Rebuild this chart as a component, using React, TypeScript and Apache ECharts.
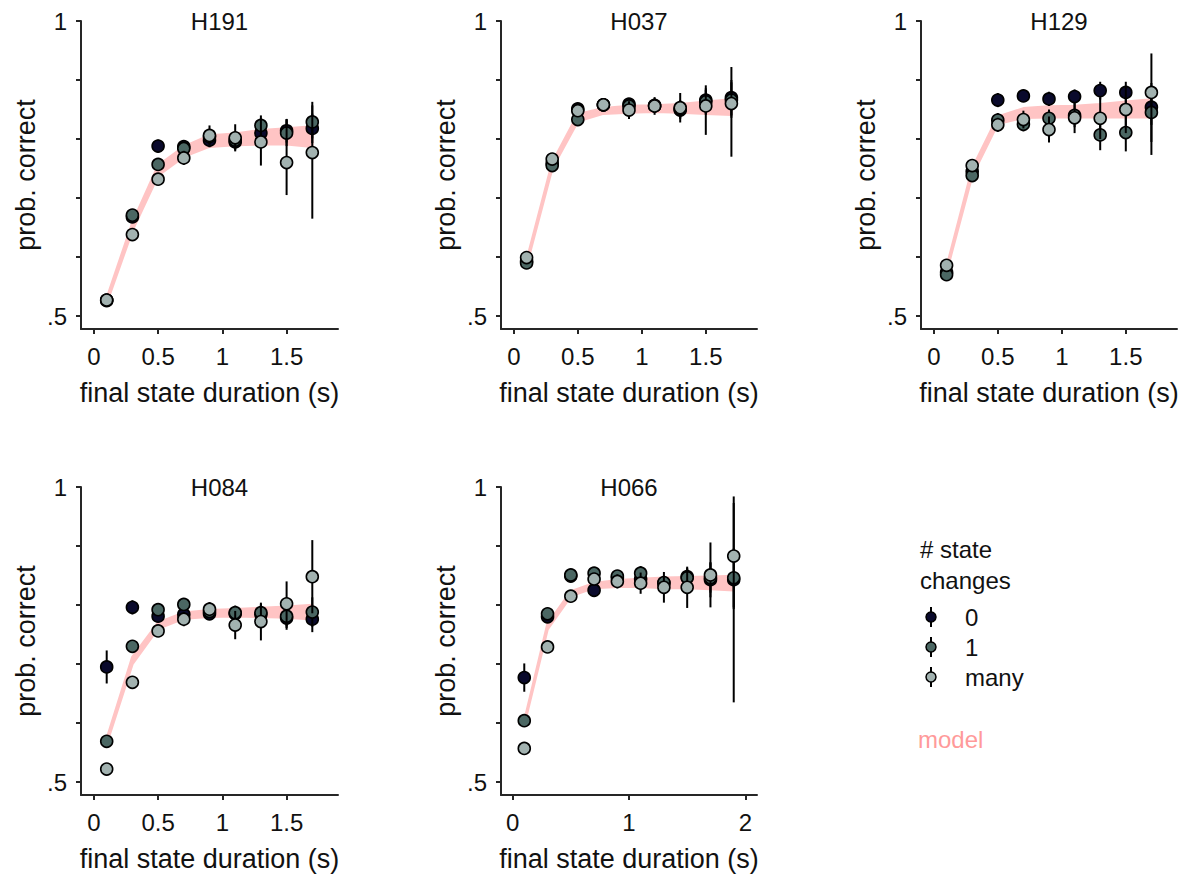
import React, { useEffect, useRef } from 'react';
import * as echarts from 'echarts';

// ---------- styling ----------
const FONT = '"Liberation Sans", Arial, Helvetica, sans-serif';
const INK = '#111111';
const AXIS = '#262626';
const BAND = '#ffc4c4';
const MODEL_TEXT = '#ff9a9a';
const GROUP_COLORS = ['#0a0a2c', '#4b6763', '#a2b2b0'];
const groupNames = ['0', '1', 'many'];

// ---------- axes ----------
const durShort = [0.1, 0.3, 0.5, 0.7, 0.9, 1.1, 1.3, 1.5, 1.7];
const durLong = [0.1, 0.3, 0.5, 0.7, 0.9, 1.1, 1.3, 1.5, 1.7, 1.9];
const xTicksShort = [0, 0.5, 1, 1.5];
const xTicksLong = [0, 1, 2];
const yTicks = [0.5, 0.6, 0.7, 0.8, 0.9, 1];
const yTickLabels = [0.5, 1];

// error bars: a single number is a symmetric half-width, a pair is [down, up]
type Err = number | [number, number];

// ---------- H191 ----------
const h191Zero = [0.526, 0.668, 0.788, 0.787, 0.798, 0.795, 0.810, 0.814, 0.818];
const h191One = [0.527, 0.671, 0.757, 0.784, 0.804, 0.798, 0.823, 0.810, 0.829];
const h191Many = [0.527, 0.638, 0.732, 0.768, 0.806, 0.802, 0.795, 0.760, 0.777];
const h191ZeroErr: Err[] = [0.008, 0.010, 0.011, 0.010, 0.012, 0.014, 0.017, 0.020, 0.025];
const h191OneErr: Err[] = [0.008, 0.010, 0.010, 0.010, 0.012, 0.014, 0.017, 0.022, 0.028];
const h191ManyErr: Err[] = [0.008, 0.010, 0.010, 0.012, 0.017, 0.023, 0.040, [0.055, 0.074], [0.112, 0.086]];
const h191ModelLo = [0.522, 0.645, 0.738, 0.770, 0.787, 0.790, 0.791, 0.791, 0.787];
const h191ModelHi = [0.530, 0.658, 0.755, 0.787, 0.806, 0.809, 0.815, 0.818, 0.821];

// ---------- H037 ----------
const h037Zero = [0.593, 0.759, 0.851, 0.858, 0.859, 0.857, 0.849, 0.866, 0.870];
const h037One = [0.590, 0.755, 0.833, 0.858, 0.856, 0.856, 0.851, 0.863, 0.866];
const h037Many = [0.599, 0.766, 0.848, 0.858, 0.849, 0.856, 0.853, 0.856, 0.860];
const h037ZeroErr: Err[] = [0.010, 0.008, 0.008, 0.008, 0.010, 0.012, 0.015, 0.025, 0.030];
const h037OneErr: Err[] = [0.010, 0.008, 0.008, 0.008, 0.010, 0.012, 0.015, 0.020, 0.030];
const h037ManyErr: Err[] = [0.008, 0.008, 0.008, 0.008, 0.015, 0.015, 0.025, [0.049, 0.030], [0.090, 0.062]];
const h037ModelLo = [0.586, 0.750, 0.830, 0.843, 0.845, 0.846, 0.845, 0.843, 0.841];
const h037ModelHi = [0.594, 0.760, 0.842, 0.852, 0.856, 0.857, 0.859, 0.863, 0.867];

// ---------- H129 ----------
const h129Zero = [0.574, 0.745, 0.866, 0.873, 0.868, 0.872, 0.882, 0.879, 0.854];
const h129One = [0.570, 0.738, 0.832, 0.825, 0.835, 0.840, 0.807, 0.811, 0.845];
const h129Many = [0.586, 0.755, 0.824, 0.833, 0.816, 0.836, 0.835, 0.850, 0.879];
const h129ZeroErr: Err[] = [0.010, 0.010, 0.012, 0.010, 0.012, 0.012, 0.015, 0.018, 0.030];
const h129OneErr: Err[] = [0.010, 0.010, 0.012, 0.012, 0.015, 0.020, 0.026, 0.032, 0.050];
const h129ManyErr: Err[] = [0.010, 0.010, 0.012, 0.015, 0.022, 0.026, 0.035, 0.040, [0.106, 0.066]];
const h129ModelLo = [0.575, 0.738, 0.826, 0.836, 0.837, 0.837, 0.837, 0.837, 0.837];
const h129ModelHi = [0.583, 0.750, 0.838, 0.852, 0.855, 0.856, 0.859, 0.863, 0.867];

// ---------- H084 ----------
const h084Zero = [0.695, 0.796, 0.781, 0.784, 0.785, 0.785, 0.784, 0.778, 0.776];
const h084One = [0.569, 0.730, 0.792, 0.801, 0.789, 0.787, 0.787, 0.781, 0.788];
const h084Many = [0.522, 0.669, 0.756, 0.776, 0.793, 0.766, 0.772, 0.802, 0.848];
const h084ZeroErr: Err[] = [0.028, 0.012, 0.010, 0.010, 0.010, 0.012, 0.015, 0.020, 0.022];
const h084OneErr: Err[] = [0.010, 0.010, 0.010, 0.010, 0.010, 0.012, 0.015, 0.020, 0.025];
const h084ManyErr: Err[] = [0.008, 0.008, 0.010, 0.012, 0.012, 0.024, 0.032, 0.038, 0.062];
const h084ModelLo = [0.565, 0.700, 0.760, 0.777, 0.780, 0.781, 0.780, 0.779, 0.776];
const h084ModelHi = [0.573, 0.712, 0.770, 0.787, 0.791, 0.793, 0.795, 0.797, 0.800];

// ---------- H066 ----------
const h066Zero = [0.677, 0.780, 0.849, 0.825, 0.846, 0.844, 0.837, 0.848, 0.843, 0.843];
const h066One = [0.604, 0.785, 0.851, 0.854, 0.849, 0.854, 0.838, 0.846, 0.846, 0.846];
const h066Many = [0.557, 0.729, 0.815, 0.844, 0.840, 0.837, 0.830, 0.830, 0.851, 0.883];
const h066ZeroErr: Err[] = [0.024, 0.010, 0.008, 0.008, 0.010, 0.010, 0.012, 0.015, 0.030, [0.208, 0.141]];
const h066OneErr: Err[] = [0.010, 0.010, 0.008, 0.008, 0.010, 0.012, 0.012, 0.015, 0.025, 0.050];
const h066ManyErr: Err[] = [0.008, 0.008, 0.008, 0.010, 0.012, 0.018, 0.026, 0.035, 0.055, 0.090];
const h066ModelLo = [0.597, 0.759, 0.815, 0.829, 0.831, 0.831, 0.829, 0.829, 0.827, 0.825];
const h066ModelHi = [0.603, 0.768, 0.823, 0.837, 0.842, 0.844, 0.846, 0.847, 0.848, 0.849];

const panels = [
  { title: 'H191', x: durShort, xMax: 1.9, xTicks: xTicksShort,
    groups: [h191Zero, h191One, h191Many], errs: [h191ZeroErr, h191OneErr, h191ManyErr],
    lo: h191ModelLo, hi: h191ModelHi },
  { title: 'H037', x: durShort, xMax: 1.9, xTicks: xTicksShort,
    groups: [h037Zero, h037One, h037Many], errs: [h037ZeroErr, h037OneErr, h037ManyErr],
    lo: h037ModelLo, hi: h037ModelHi },
  { title: 'H129', x: durShort, xMax: 1.9, xTicks: xTicksShort,
    groups: [h129Zero, h129One, h129Many], errs: [h129ZeroErr, h129OneErr, h129ManyErr],
    lo: h129ModelLo, hi: h129ModelHi },
  { title: 'H084', x: durShort, xMax: 1.9, xTicks: xTicksShort,
    groups: [h084Zero, h084One, h084Many], errs: [h084ZeroErr, h084OneErr, h084ManyErr],
    lo: h084ModelLo, hi: h084ModelHi },
  { title: 'H066', x: durLong, xMax: 2.1, xTicks: xTicksLong,
    groups: [h066Zero, h066One, h066Many], errs: [h066ZeroErr, h066OneErr, h066ManyErr],
    lo: h066ModelLo, hi: h066ModelHi },
];

// plot boxes, in px
const boxes = [
  { left: 81, top: 21, width: 257, height: 308 },
  { left: 501, top: 21, width: 256, height: 308 },
  { left: 921, top: 21, width: 256, height: 308 },
  { left: 81, top: 487, width: 257, height: 308 },
  { left: 501, top: 487, width: 256, height: 308 },
];
const titleShift = [10, 10, 10, 10, 0];

const Y_MIN = 0.478;
const Y_MAX = 1;

function buildOption() {
  const grid: any[] = [];
  const xAxis: any[] = [];
  const yAxis: any[] = [];
  const series: any[] = [];
  const graphic: any[] = [];

  const axisLine = { show: true, onZero: false, lineStyle: { color: AXIS, width: 2 } };
  const tickStyle = { color: AXIS, width: 2 };

  panels.forEach((p, i) => {
    const b = boxes[i];
    grid.push({ ...b, containLabel: false, outerBoundsMode: 'none', show: false });

    xAxis.push({
      type: 'value', gridIndex: i, min: -0.1, max: p.xMax,
      axisLine,
      axisTick: { show: true, inside: false, length: 5, lineStyle: tickStyle, customValues: p.xTicks },
      axisLabel: {
        customValues: p.xTicks, fontSize: 24, color: INK, fontFamily: FONT, margin: 15,
        formatter: (v: number) => String(v),
      },
      splitLine: { show: false },
      name: 'final state duration (s)', nameLocation: 'middle', nameGap: 50,
      nameTextStyle: { fontSize: 27, color: INK, fontFamily: FONT },
    });

    yAxis.push({
      type: 'value', gridIndex: i, min: Y_MIN, max: Y_MAX,
      axisLine,
      axisTick: { show: true, inside: false, length: 5, lineStyle: tickStyle, customValues: yTicks },
      axisLabel: {
        customValues: yTickLabels, fontSize: 24, color: INK, fontFamily: FONT, margin: 14,
        formatter: (v: number) => String(v).replace(/^0\./, '.'),
      },
      splitLine: { show: false },
      name: 'prob. correct', nameLocation: 'middle', nameGap: 42, nameRotate: 90,
      nameTextStyle: { fontSize: 27, color: INK, fontFamily: FONT },
    });

    // model band
    const xs = p.x, lo = p.lo, hi = p.hi;
    series.push({
      type: 'custom', name: 'model', xAxisIndex: i, yAxisIndex: i, z: 1, silent: true,
      data: xs.map((x, k) => [x, lo[k], hi[k]]),
      encode: { x: 0, y: [1, 2] },
      renderItem: (params: any, api: any) => {
        if (params.dataIndex !== 0) return null;
        const upper = xs.map((x, k) => api.coord([x, hi[k]]));
        const lower = xs.map((x, k) => api.coord([x, lo[k]])).reverse();
        return {
          type: 'polygon',
          shape: { points: upper.concat(lower) },
          style: { fill: BAND, stroke: BAND, lineWidth: 2.5, lineJoin: 'round' },
        };
      },
    });

    p.groups.forEach((vals, g) => {
      const errs = p.errs[g];
      series.push({
        type: 'custom', name: groupNames[g] + ' err', xAxisIndex: i, yAxisIndex: i,
        z: 2 + 2 * g, silent: true,
        dimensions: ['x', 'y', 'down', 'up'],
        encode: { x: 0, y: 1 },
        data: xs.map((x, k) => {
          const e = errs[k];
          const [dn, up] = Array.isArray(e) ? e : [e, e];
          return [x, vals[k], dn, up];
        }),
        renderItem: (_params: any, api: any) => {
          const x = api.value(0), y = api.value(1);
          const a = api.coord([x, y - api.value(2)]);
          const c = api.coord([x, y + api.value(3)]);
          return {
            type: 'line',
            shape: { x1: a[0], y1: a[1], x2: c[0], y2: c[1] },
            style: { stroke: '#000000', lineWidth: 2 },
          };
        },
      });
      series.push({
        type: 'scatter', name: groupNames[g], xAxisIndex: i, yAxisIndex: i,
        z: 3 + 2 * g, silent: true,
        symbol: 'circle', symbolSize: 12,
        itemStyle: { color: GROUP_COLORS[g], borderColor: '#000000', borderWidth: 1.6, opacity: 1 },
        data: xs.map((x, k) => [x, vals[k]]),
      });
    });

    graphic.push({
      type: 'text', x: b.left + b.width / 2 + titleShift[i], y: b.top,
      style: { text: p.title, fontSize: 24, fontFamily: FONT, fill: INK, align: 'center', verticalAlign: 'middle' },
    });
  });

  // legend block
  const lx = 920;
  graphic.push({
    type: 'text', x: lx, y: 549,
    style: { text: '# state', fontSize: 24, fontFamily: FONT, fill: INK, align: 'left', verticalAlign: 'middle' },
  });
  graphic.push({
    type: 'text', x: lx, y: 580,
    style: { text: 'changes', fontSize: 24, fontFamily: FONT, fill: INK, align: 'left', verticalAlign: 'middle' },
  });
  groupNames.forEach((nm, g) => {
    const cy = 617 + 30 * g;
    graphic.push({
      type: 'line', shape: { x1: 931, y1: cy - 10, x2: 931, y2: cy + 10 },
      style: { stroke: '#000000', lineWidth: 2 },
    });
    graphic.push({
      type: 'circle', shape: { cx: 931, cy, r: 5 },
      style: { fill: GROUP_COLORS[g], stroke: '#000000', lineWidth: 1.5 },
    });
    graphic.push({
      type: 'text', x: 965, y: cy,
      style: { text: nm, fontSize: 24, fontFamily: FONT, fill: INK, align: 'left', verticalAlign: 'middle' },
    });
  });
  graphic.push({
    type: 'text', x: 918, y: 739,
    style: { text: 'model', fontSize: 24, fontFamily: FONT, fill: MODEL_TEXT, align: 'left', verticalAlign: 'middle' },
  });

  return {
    animation: false,
    backgroundColor: '#ffffff',
    textStyle: { fontFamily: FONT },
    grid, xAxis, yAxis, series, graphic,
  };
}

export default function App() {
  const ref = useRef<HTMLDivElement>(null);
  useEffect(() => {
    document.body.style.margin = '0';
    if (!ref.current) return;
    const chart = echarts.init(ref.current, undefined, { renderer: 'svg' });
    chart.setOption(buildOption() as any);
    return () => chart.dispose();
  }, []);
  return <div ref={ref} style={{ width: 1190, height: 877 }} />;
}
